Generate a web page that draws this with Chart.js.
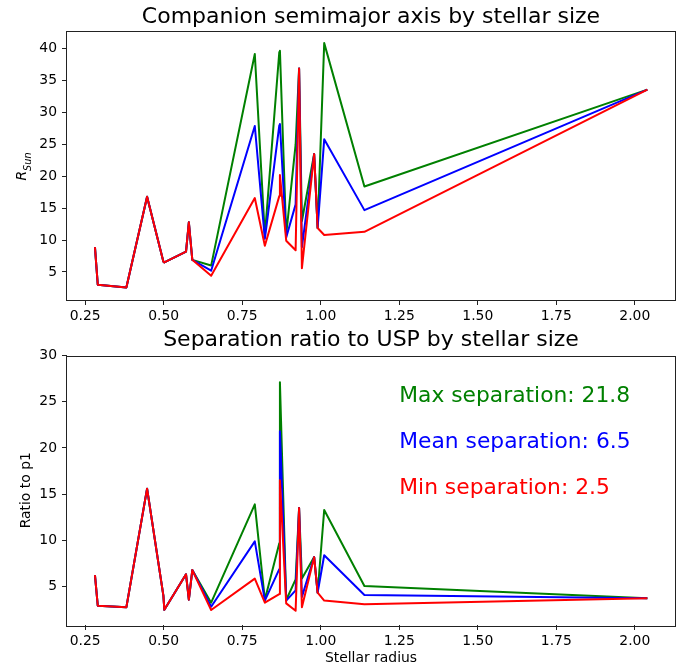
<!DOCTYPE html>
<html>
<head>
<meta charset="utf-8">
<script src="https://cdn.jsdelivr.net/npm/chart.js@4/dist/chart.umd.min.js"></script>
<style>
html, body { margin: 0; padding: 0; background: #fff; }
#wrap { position: relative; width: 685px; height: 667px; }
canvas { position: absolute; left: 0; }
</style>
</head>
<body>
<div id="wrap">
  <canvas id="axisChart" width="685" height="324" style="top:0"></canvas>
  <canvas id="ratioChart" width="685" height="343" style="top:324px"></canvas>
</div>
<script>
// stellar radius of each host star (x for both panels)
const radius = [0.281, 0.290, 0.381, 0.447, 0.499, 0.502, 0.571, 0.580, 0.591, 0.651, 0.790, 0.822,
                0.868, 0.870, 0.890, 0.920, 0.931, 0.940, 0.979, 0.990, 1.011, 1.139, 2.040];

// companion semimajor axis, R_sun
const axisMax  = [8.9, 3.0, 2.55, 16.8, 6.6, 6.5, 8.2, 12.8, 6.9, 6.0, 39.2, 10.7,
                  39.5, 39.7, 10.9, 25.0, 36.9, 13.0, 23.5, 11.9, 40.9, 18.4, 33.6];
const axisMean = [8.9, 3.0, 2.55, 16.8, 6.6, 6.5, 8.2, 12.8, 6.9, 5.2, 27.9, 10.2,
                  28.0, 28.2, 10.4, 15.6, 36.9, 8.9, 23.5, 11.9, 25.8, 14.7, 33.6];
const axisMin  = [8.9, 3.0, 2.55, 16.8, 6.6, 6.5, 8.2, 12.8, 6.9, 4.4, 16.6, 9.1,
                  16.9, 20.2, 9.9, 8.4, 36.9, 5.6, 23.5, 11.9, 10.8, 11.3, 33.6];

// separation ratio to the USP
const ratioMax  = [6.26, 2.95, 2.77, 15.6, 4.0, 2.5, 6.34, 3.6, 6.8, 3.27, 13.9, 3.6,
                   9.7, 27.1, 3.56, 5.8, 13.5, 5.9, 8.2, 4.35, 13.3, 5.07, 3.75];
const ratioMean = [6.26, 2.95, 2.77, 15.6, 4.0, 2.5, 6.34, 3.6, 6.8, 2.84, 9.9, 3.5,
                   6.9, 21.8, 3.5, 4.6, 13.5, 3.9, 8.2, 4.35, 8.4, 4.1, 3.75];
const ratioMin  = [6.26, 2.95, 2.77, 15.6, 4.0, 2.5, 6.34, 3.6, 6.8, 2.48, 5.87, 3.27,
                   4.2, 16.5, 3.2, 2.4, 13.5, 2.77, 8.2, 4.35, 3.5, 3.1, 3.75];

const xTicks = [0.25, 0.5, 0.75, 1.0, 1.25, 1.5, 1.75, 2.0];
const axisTicks = [5, 10, 15, 20, 25, 30, 35, 40];
const ratioTicks = [5, 10, 15, 20, 25, 30];

const notes = ['Max separation: 21.8', 'Mean separation: 6.5', 'Min separation: 2.5'];
const noteColors = ['green', 'blue', 'red'];
const noteX = 1.25;
const noteY = [25, 20, 15];

Chart.defaults.font.family = "'DejaVu Sans', sans-serif";
Chart.defaults.color = '#000';
Chart.defaults.animation = false;

const FONT = 13.9;

const toPoints = ys => ys.map((y, i) => ({x: radius[i], y}));

const series = (ys, color, order) => ({
    data: toPoints(ys),
    borderColor: color,
    borderWidth: 2,
    pointRadius: 0,
    tension: 0,
    fill: false,
    borderJoinStyle: 'round',
    order
});

const frame = {
    id: 'frame',
    afterDraw(chart) {
        const {ctx, chartArea: a} = chart;
        ctx.save();
        ctx.strokeStyle = '#222';
        ctx.lineWidth = 1;
        ctx.strokeRect(Math.round(a.left) - 0.5, Math.round(a.top) + 0.5,
            Math.round(a.right - a.left) + 1, Math.round(a.bottom - a.top));
        ctx.restore();
    }
};

// title centred over the axes box, like matplotlib
const axesTitle = {
    id: 'axesTitle',
    afterDraw(chart, args, opts) {
        const {ctx, chartArea: a} = chart;
        ctx.save();
        ctx.font = "22px 'DejaVu Sans'";
        ctx.fillStyle = '#000';
        ctx.textAlign = 'center';
        ctx.textBaseline = 'middle';
        ctx.fillText(opts.text, (a.left + a.right) / 2, opts.y);
        ctx.restore();
    }
};

// R with "Sun" subscript, as in the mathtext label
const sunLabel = {
    id: 'sunLabel',
    afterDraw(chart) {
        const {ctx, chartArea: a} = chart;
        ctx.save();
        ctx.translate(25, (a.top + a.bottom) / 2 + 1);
        ctx.rotate(-Math.PI / 2);
        ctx.fillStyle = '#000';
        ctx.textBaseline = 'middle';
        ctx.textAlign = 'left';
        ctx.font = 'italic ' + FONT + "px 'DejaVu Sans'";
        const w1 = ctx.measureText('R').width;
        ctx.font = "italic 9.7px 'DejaVu Sans'";
        const w2 = ctx.measureText('Sun').width;
        const start = -(w1 + w2) / 2;
        ctx.font = 'italic ' + FONT + "px 'DejaVu Sans'";
        ctx.fillText('R', start, -2.5);
        ctx.font = "italic 9.7px 'DejaVu Sans'";
        ctx.fillText('Sun', start + w1, 3.5);
        ctx.restore();
    }
};

const noteText = {
    id: 'noteText',
    afterDatasetsDraw(chart) {
        const {ctx, scales} = chart;
        ctx.save();
        ctx.font = "21.8px 'DejaVu Sans'";
        ctx.textAlign = 'left';
        ctx.textBaseline = 'alphabetic';
        notes.forEach((t, i) => {
            ctx.fillStyle = noteColors[i];
            ctx.fillText(t, scales.x.getPixelForValue(noteX), scales.y.getPixelForValue(noteY[i]));
        });
        ctx.restore();
    }
};

const xScale = (height, title) => ({
    type: 'linear',
    min: 0.192,
    max: 2.128,
    afterBuildTicks: s => { s.ticks = xTicks.map(v => ({value: v})); },
    afterFit: s => { s.height = height; },
    border: {display: false},
    grid: {drawOnChartArea: false, drawTicks: true, tickLength: 5, color: '#222'},
    ticks: {font: {size: FONT}, padding: 3, maxRotation: 0, autoSkip: false,
            callback: v => Number(v).toFixed(2)},
    title: title
        ? {display: true, text: title, font: {size: FONT}, padding: {top: 0, bottom: 0.5}}
        : {display: false}
});

const yScale = (min, max, tickList, title) => ({
    type: 'linear',
    min,
    max,
    afterBuildTicks: s => { s.ticks = tickList.map(v => ({value: v})); },
    afterFit: s => { s.width = 67; },
    border: {display: false},
    grid: {drawOnChartArea: false, drawTicks: true, tickLength: 5, color: '#222'},
    ticks: {font: {size: FONT}, padding: 5, autoSkip: false},
    title: title
        ? {display: true, text: title, font: {size: FONT}, padding: {top: 18.5, bottom: 0}}
        : {display: false}
});

const baseOptions = (titleText, titleY, top, x, y) => ({
    responsive: false,
    animation: false,
    layout: {padding: {left: 0, right: 10, top, bottom: 0}},
    plugins: {
        legend: {display: false},
        tooltip: {enabled: false},
        title: {display: false},
        axesTitle: {text: titleText, y: titleY}
    },
    scales: {x, y}
});

new Chart(document.getElementById('axisChart'), {
    type: 'line',
    data: {
        datasets: [
            series(axisMax, 'green', 3),
            series(axisMean, 'blue', 2),
            series(axisMin, 'red', 1)
        ]
    },
    options: baseOptions('Companion semimajor axis by stellar size', 17, 31,
        xScale(24, null), yScale(0.6, 42.8, axisTicks, null)),
    plugins: [frame, axesTitle, sunLabel]
});

new Chart(document.getElementById('ratioChart'), {
    type: 'line',
    data: {
        datasets: [
            series(ratioMax, 'green', 3),
            series(ratioMean, 'blue', 2),
            series(ratioMin, 'red', 1)
        ]
    },
    options: baseOptions('Separation ratio to USP by stellar size', 16, 31.5,
        xScale(42, 'Stellar radius'), yScale(0.86, 30, ratioTicks, 'Ratio to p1')),
    plugins: [frame, axesTitle, noteText]
});
</script>
</body>
</html>
